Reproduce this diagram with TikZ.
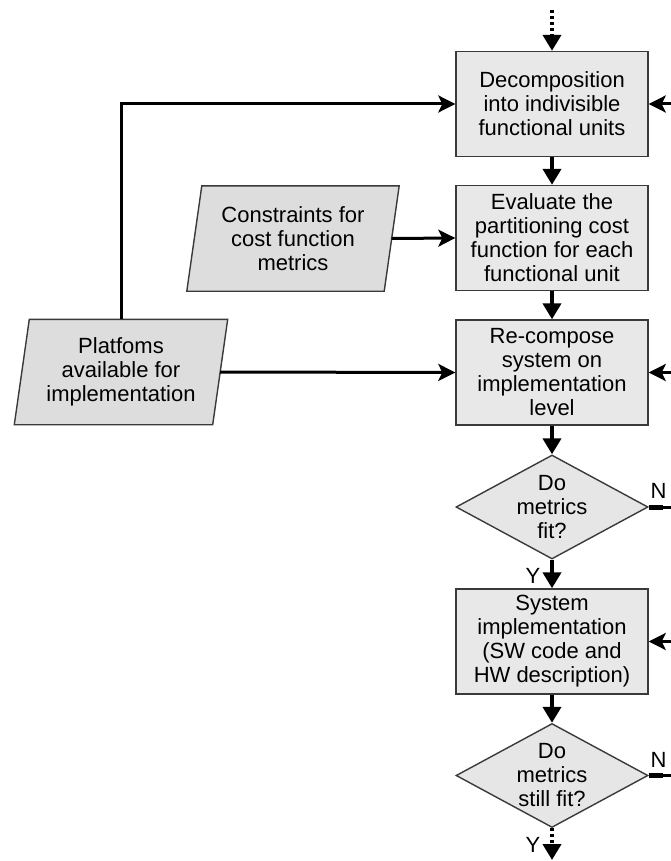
\documentclass[tikz,border=0pt]{standalone}
\usepackage{fontspec}
\setmainfont{Liberation Sans}
\usetikzlibrary{arrows.meta,shapes.geometric,backgrounds,calc}
\definecolor{boxfill}{HTML}{E8E8E8}
\definecolor{parafill}{HTML}{DDDDDD}
\definecolor{diafill}{HTML}{E6E6E6}
\definecolor{boxline}{HTML}{3A3A3A}
\begin{document}
\begin{tikzpicture}[x=1pt,y=-1pt,
  every node/.style={font=\fontsize{22}{24}\selectfont, align=center, inner sep=0pt},
  procbox/.style={draw=boxline, line width=1.4pt, fill=boxfill,
    minimum width=192pt, minimum height=105pt},
  decision/.style={diamond, draw=boxline, line width=1.4pt, fill=diafill,
    minimum width=192pt, minimum height=104pt},
  iobody/.style={minimum width=197pt, minimum height=105pt},
  ioframe/.style={draw=boxline, line width=1.4pt, fill=parafill},
  varr/.style={line width=4.2pt, -{Triangle[length=16pt,width=18pt]}},
  harr/.style={line width=3pt, -{Stealth[length=17pt,width=17pt,inset=4pt]}},
  dotarr/.style={line width=4.2pt, dash pattern=on 3pt off 3pt,
    -{Triangle[length=16pt,width=18pt]}},
  plainline/.style={line width=3pt}
]
\clip (0,0) rectangle (671,861);

% main column
\node[procbox] (box1) at (552,104) {Decomposition\\into indivisible\\functional units};
\node[procbox] (box2) at (552,238) {Evaluate the\\partitioning cost\\function for each\\functional unit};
\node[procbox] (box3) at (552,372.5) {Re-compose\\system on\\implementation\\level};
\node[decision] (d1) at (552,507) {};
\node (d1t) at (d1.center) {Do\\metrics\\fit?};
\node[procbox] (box4) at (552,641.5) {System\\implementation\\(SW code and\\HW description)};
\node[decision] (d2) at (552,775.5) {};
\node (d2t) at (d2.center) {Do\\metrics\\still fit?};

% input parallelograms
\node[iobody] (cons) at (293,238.5) {Constraints for\\cost function\\metrics};
\node[iobody, minimum width=198pt] (plat) at (121,372) {Platfoms\\available for\\implementation};
\begin{scope}[on background layer]
  \foreach \p in {cons,plat}{
    \filldraw[ioframe] ([xshift=7.5pt]\p.north west) -- ([xshift=7.5pt]\p.north east)
      -- ([xshift=-7.5pt]\p.south east) -- ([xshift=-7.5pt]\p.south west) -- cycle;
  }
\end{scope}

% flow in the main column
\coordinate (topin) at (552,10);
\coordinate (botout) at (552,860);
\draw[dotarr] (topin) -- (box1.north);
\draw[varr] (box1.south) -- (box2.north);
\draw[varr] (box2.south) -- (box3.north);
\draw[varr] (box3.south) -- (d1.north);
\draw[varr] (d1.south) -- (box4.north);
\draw[varr] (box4.south) -- (d2.north);
\draw[dotarr] (d2.south) -- (botout);

% inputs from the left
\draw[harr] (plat.north) |- (box1.west);
\draw[harr] (cons.east) -- (box2.west);
\draw[harr] (plat.east) -- (box3.west);

% feedback arriving from the right
\coordinate (rin1) at ($(box1.east)+(40,0)$);
\coordinate (rin3) at ($(box3.east)+(40,0)$);
\coordinate (rin4) at ($(box4.east)+(40,0)$);
\draw[harr] (rin1) -- (box1.east);
\draw[harr] (rin3) -- (box3.east);
\draw[harr] (rin4) -- (box4.east);

% "no" exits to the right
\coordinate (nout1) at ($(d1.east)+(40,0)$);
\coordinate (nout2) at ($(d2.east)+(40,0)$);
\draw[plainline] (d1.east) -- (nout1);
\draw[plainline] (d2.east) -- (nout2);
\draw[line width=5pt] (d1.east) -- ++(14,0);
\draw[line width=5pt] (d2.east) -- ++(14,0);

% branch labels
\node (n1) at (658.5,491) {N};
\node (n2) at (658.5,759.5) {N};
\node (y1) at (533,576) {Y};
\node (y2) at (533,844.5) {Y};
\end{tikzpicture}
\end{document}
